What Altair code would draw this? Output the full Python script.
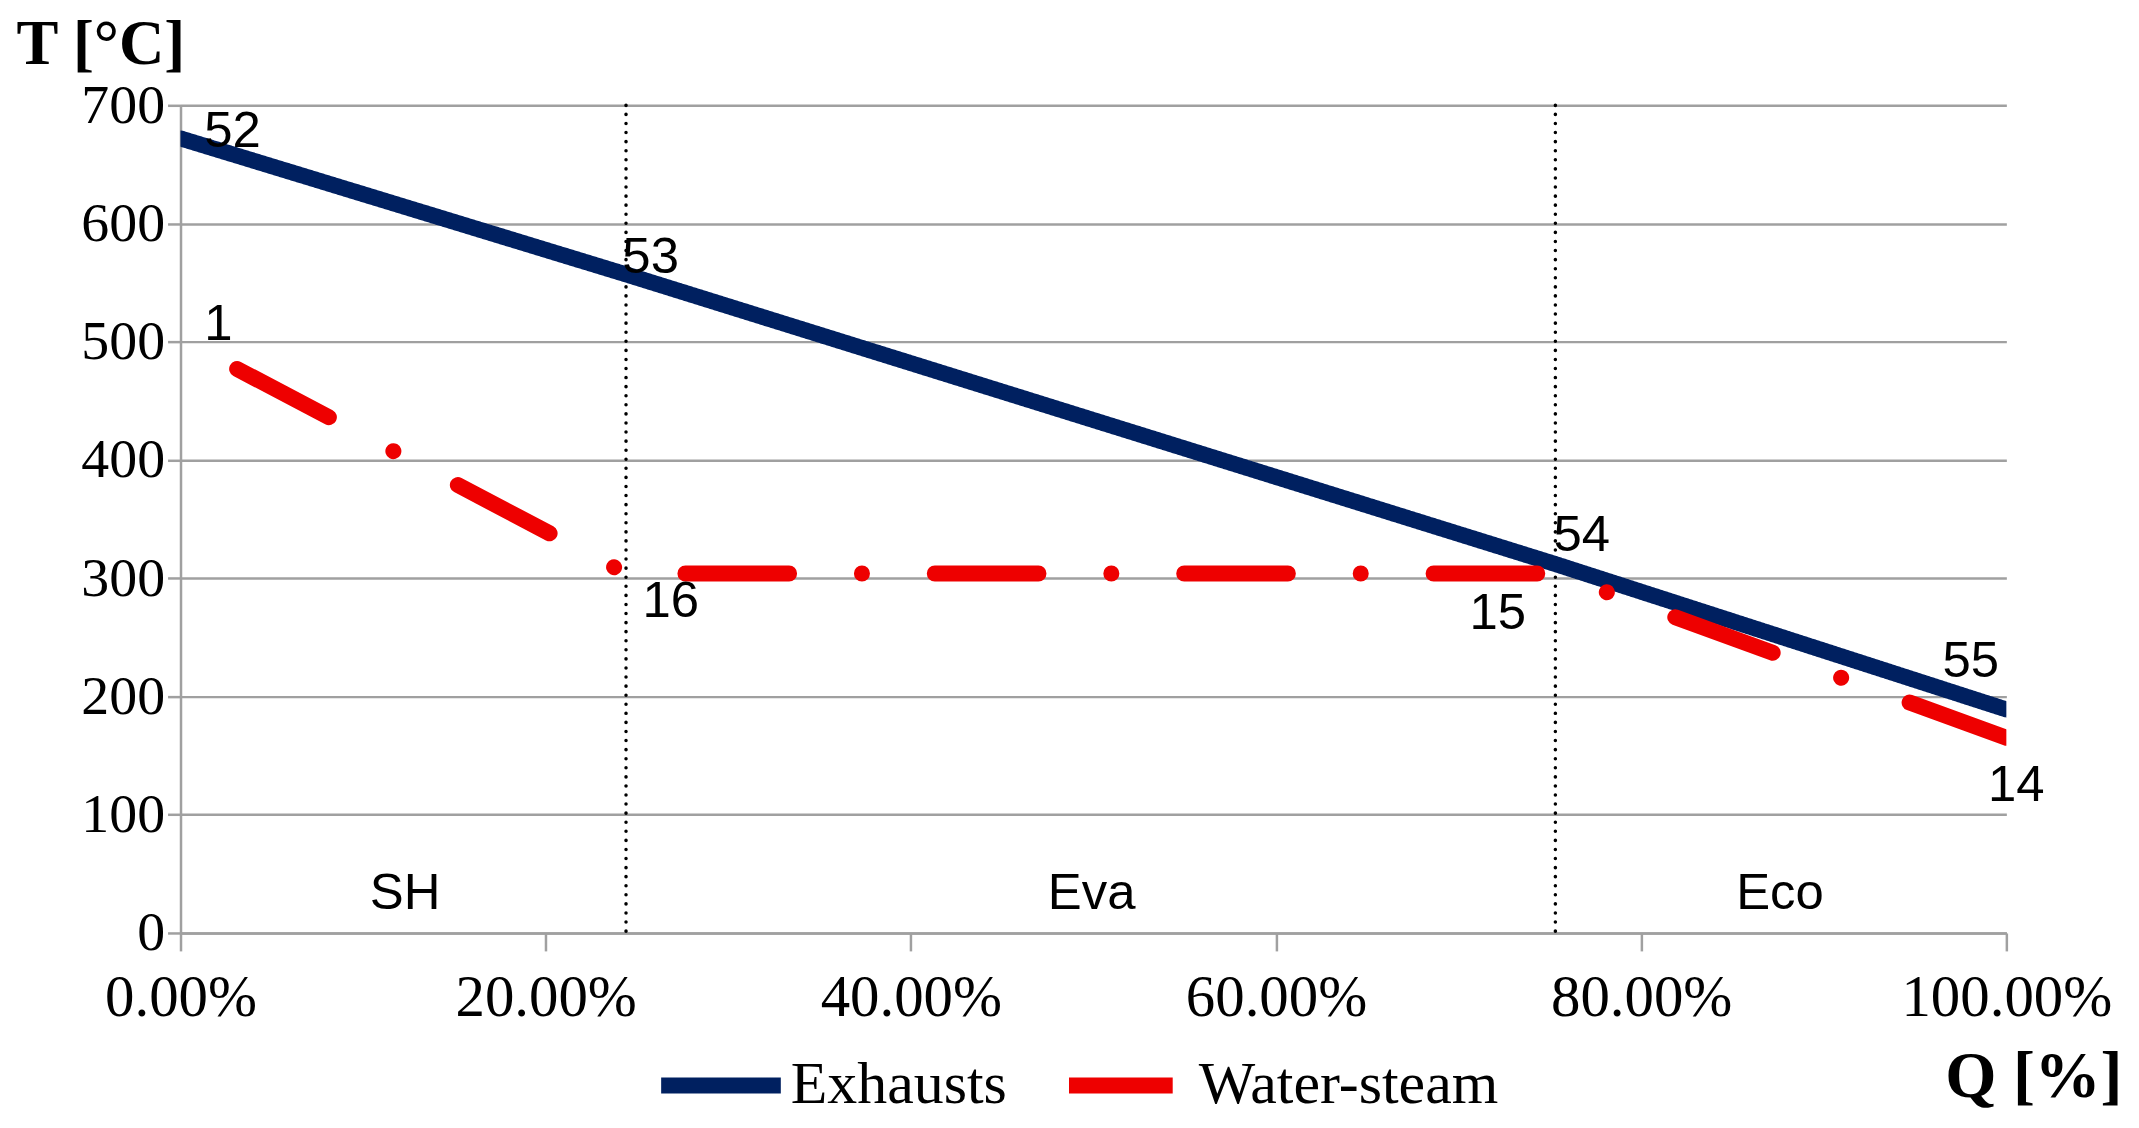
import altair as alt
import pandas as pd

# series data (Q as fraction of total heat, T in °C)
series = ["Exhausts", "Water-steam"]
q_exhausts = [0.0, 0.244, 0.753, 1.0]
t_exhausts = [672, 557, 312, 189]
q_water = [0.031, 0.244, 0.753, 1.0]
t_water = [477, 304, 304, 165]

# state point labels
point_names = ["52", "53", "54", "55", "1", "16", "15", "14"]
point_q = [0.013, 0.242, 0.752, 0.965, 0.013, 0.253, 0.706, 0.990]
point_t = [677, 571, 336, 229, 514, 280, 270, 124]

# heat exchanger sections
zone_names = ["SH", "Eva", "Eco"]
zone_q = [0.123, 0.499, 0.876]
zone_t = [33, 33, 33]
zone_bounds = [0.244, 0.753]

q_ticks = [0.0, 0.2, 0.4, 0.6, 0.8, 1.0]
t_ticks = [0, 100, 200, 300, 400, 500, 600, 700]

lines_df = pd.DataFrame({
    "series": [series[0]] * len(q_exhausts) + [series[1]] * len(q_water),
    "q": q_exhausts + q_water,
    "t": t_exhausts + t_water,
})
points_df = pd.DataFrame({"name": point_names, "q": point_q, "t": point_t})
zones_df = pd.DataFrame({"name": zone_names, "q": zone_q, "t": zone_t})
bounds_df = pd.DataFrame({"q": zone_bounds})

GRAY = "#a0a0a0"
SERIF = "Liberation Serif"
SANS = "Liberation Sans"

x_scale = alt.Scale(domain=[0, 1], nice=False)
y_scale = alt.Scale(domain=[0, 700], nice=False)

x_axis = alt.Axis(
    values=q_ticks, format=".2%", grid=False,
    labelFont=SERIF, labelFontSize=59, labelColor="black", labelPadding=18,
    labelFlush=False, labelLimit=500, labelOverlap=False,
    tickSize=18, tickColor=GRAY, tickWidth=2.5,
    domainColor=GRAY, domainWidth=2.5,
    title="Q [%]", titleFont=SERIF, titleFontSize=66, titleFontWeight="bold",
    titleColor="black", titleX=1947, titleY=144, titleAlign="right",
    titleBaseline="middle",
)
y_axis = alt.Axis(
    values=t_ticks, grid=True, gridColor=GRAY, gridWidth=2.5,
    labelFont=SERIF, labelFontSize=56, labelColor="black", labelPadding=3,
    labelLimit=500,
    tickSize=13, tickColor=GRAY, tickWidth=2.5,
    domainColor=GRAY, domainWidth=2.5,
    title="T [°C]", titleFont=SERIF, titleFontSize=63, titleFontWeight="bold",
    titleColor="black", titleAngle=0, titleX=-165, titleY=-61,
    titleAlign="left", titleBaseline="middle",
)

legend = alt.Legend(
    title=None, orient="none", legendX=474, legendY=915, direction="horizontal",
    symbolType="stroke", symbolSize=14400, symbolStrokeWidth=16,
    labelFont=SERIF, labelFontSize=60, labelColor="black", labelLimit=500,
    labelOffset=2, columnPadding=30, padding=0,
)

lines = alt.Chart(lines_df).mark_line(strokeWidth=16, strokeCap="round", clip=True).encode(
    x=alt.X("q:Q", scale=x_scale, axis=x_axis),
    y=alt.Y("t:Q", scale=y_scale, axis=y_axis),
    color=alt.Color("series:N", scale=alt.Scale(domain=series, range=["#002060", "#ee0000"]),
                    legend=legend),
    strokeDash=alt.StrokeDash("series:N",
                              scale=alt.Scale(domain=series, range=[[1, 0], [104, 73, 0.1, 73]]),
                              legend=legend),
)

bounds = alt.Chart(bounds_df).mark_rule(
    color="black", strokeWidth=3.5, strokeDash=[0.1, 9], strokeCap="round"
).encode(x=alt.X("q:Q", scale=x_scale))

point_labels = alt.Chart(points_df).mark_text(
    align="left", baseline="middle", font=SANS, fontSize=51, color="black"
).encode(x=alt.X("q:Q", scale=x_scale), y=alt.Y("t:Q", scale=y_scale), text="name:N")

zone_labels = alt.Chart(zones_df).mark_text(
    align="center", baseline="middle", font=SANS, fontSize=51, color="black"
).encode(x=alt.X("q:Q", scale=x_scale), y=alt.Y("t:Q", scale=y_scale), text="name:N")

chart = alt.layer(bounds, lines, point_labels, zone_labels).properties(
    width=1831, height=830,
    autosize=alt.AutoSizeParams(type="none"),
    padding={"left": 173, "top": 96, "right": 125, "bottom": 185},
).configure_view(stroke=None)

chart.save("out.html", embed_options={"renderer": "svg", "actions": False})
